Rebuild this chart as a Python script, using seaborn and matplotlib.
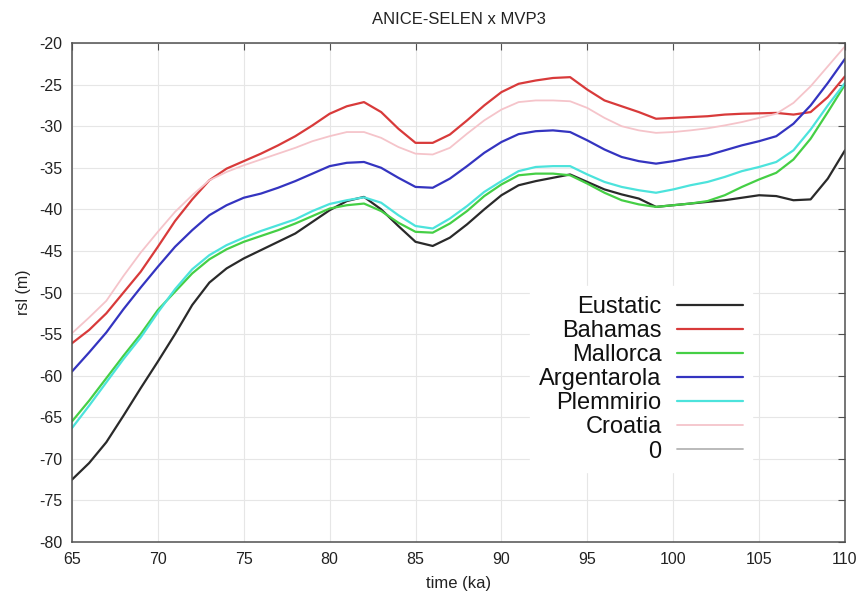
import numpy as np
import pandas as pd
import matplotlib
matplotlib.use("Agg")
import matplotlib.pyplot as plt
import seaborn as sns

# Relative sea level (m) between 65 and 110 ka, one value per ka
time_ka = list(range(65, 111))

eustatic = [-72.5, -70.5, -68.0, -64.8, -61.5, -58.3, -55.0, -51.5, -48.8, -47.1,
            -45.9, -44.9, -43.9, -42.9, -41.5, -40.1, -39.0, -38.5, -40.0, -42.0,
            -43.9, -44.4, -43.4, -41.8, -40.0, -38.3, -37.1, -36.6, -36.2, -35.8,
            -36.7, -37.6, -38.2, -38.7, -39.7, -39.5, -39.3, -39.1, -38.9, -38.6,
            -38.3, -38.4, -38.9, -38.8, -36.3, -32.9]

bahamas = [-56.1, -54.5, -52.5, -50.0, -47.5, -44.5, -41.4, -38.8, -36.5, -35.1,
           -34.2, -33.3, -32.3, -31.2, -29.9, -28.5, -27.6, -27.1, -28.3, -30.3,
           -32.0, -32.0, -31.0, -29.3, -27.5, -25.9, -24.9, -24.5, -24.2, -24.1,
           -25.6, -26.9, -27.6, -28.3, -29.1, -29.0, -28.9, -28.8, -28.6, -28.5,
           -28.45, -28.4, -28.6, -28.3, -26.5, -24.0]

mallorca = [-65.5, -63.0, -60.3, -57.6, -55.0, -52.1, -49.9, -47.7, -46.0, -44.8,
            -43.9, -43.2, -42.5, -41.7, -40.8, -39.9, -39.5, -39.3, -40.2, -41.6,
            -42.7, -42.8, -41.7, -40.2, -38.4, -37.0, -35.9, -35.7, -35.7, -35.9,
            -36.9, -38.0, -38.9, -39.4, -39.7, -39.5, -39.3, -39.0, -38.3, -37.3,
            -36.4, -35.6, -34.0, -31.5, -28.3, -25.0]

argentarola = [-59.5, -57.2, -54.8, -52.0, -49.4, -46.9, -44.5, -42.5, -40.7, -39.5,
               -38.6, -38.1, -37.4, -36.6, -35.7, -34.8, -34.4, -34.3, -35.0, -36.2,
               -37.3, -37.4, -36.3, -34.8, -33.2, -31.9, -30.95, -30.6, -30.5, -30.7,
               -31.7, -32.8, -33.7, -34.2, -34.5, -34.2, -33.8, -33.5, -32.9, -32.3,
               -31.8, -31.2, -29.7, -27.5, -24.8, -21.9]

plemmirio = [-66.3, -63.6, -60.8, -58.0, -55.4, -52.4, -49.6, -47.2, -45.5, -44.3,
             -43.4, -42.6, -41.9, -41.2, -40.2, -39.35, -38.9, -38.55, -39.2, -40.7,
             -42.0, -42.3, -41.1, -39.6, -37.9, -36.6, -35.4, -34.9, -34.8, -34.8,
             -35.8, -36.7, -37.3, -37.7, -38.0, -37.6, -37.1, -36.7, -36.1, -35.4,
             -34.9, -34.3, -32.9, -30.4, -27.5, -24.8]

croatia = [-54.9, -53.0, -51.0, -48.0, -45.2, -42.7, -40.3, -38.3, -36.5, -35.5,
           -34.7, -34.0, -33.3, -32.6, -31.8, -31.2, -30.7, -30.7, -31.4, -32.5,
           -33.3, -33.4, -32.6, -30.9, -29.3, -28.0, -27.1, -26.9, -26.9, -27.0,
           -27.8, -29.0, -30.0, -30.5, -30.8, -30.7, -30.5, -30.25, -29.9, -29.5,
           -29.0, -28.5, -27.2, -25.2, -22.8, -20.4]

zero_line = [0.0] * len(time_ka)

series_names = ["Eustatic", "Bahamas", "Mallorca", "Argentarola", "Plemmirio", "Croatia", "0"]
series_values = [eustatic, bahamas, mallorca, argentarola, plemmirio, croatia, zero_line]
series_colors = ["#2a2a2a", "#d83a3a", "#45cf45", "#3434c0", "#4ce3dc", "#f5c4ca", "#b4b4b4"]
series_widths = [1.6, 1.6, 1.6, 1.6, 1.6, 1.3, 1.3]

sns.set_style("white")
plt.rcParams["font.family"] = ["Liberation Sans", "DejaVu Sans"]
plt.rcParams["axes.unicode_minus"] = False

fig = plt.figure(figsize=(8.67, 5.98), dpi=100)
ax = fig.add_axes([0.083, 0.0936, 0.8916, 0.8344])

for name, vals, col, lw in zip(series_names, series_values, series_colors, series_widths):
    df = pd.DataFrame({"time": time_ka, "rsl": vals})
    sns.lineplot(data=df, x="time", y="rsl", color=col, linewidth=lw, label=name, ax=ax)

ax.set_xlim(65, 110)
ax.set_ylim(-80, -20)
ax.set_xticks(np.arange(65, 111, 5))
ax.set_yticks(np.arange(-80, -19, 5))
ax.grid(True, color="#e6e6e6", linewidth=0.8)
ax.set_axisbelow(True)

for sp in ax.spines.values():
    sp.set_color("#505050")
    sp.set_linewidth(1.1)

ax.tick_params(direction="in", top=True, right=True, length=5, width=0.8,
               color="#505050", labelsize=11.5, labelcolor="#222222", pad=7)

ax.set_xlabel("time (ka)", fontsize=12, color="#222222", labelpad=7)
ax.set_ylabel("rsl (m)", fontsize=11.5, color="#222222", labelpad=6)
ax.set_title("ANICE-SELEN x MVP3", fontsize=12, color="#222222", pad=14)

leg = ax.legend(loc="upper right", bbox_to_anchor=(0.8955, 0.536), markerfirst=False,
                fontsize=17, handlelength=2.8, handletextpad=0.64, labelspacing=0.09,
                borderpad=0.4, frameon=True, fancybox=False, framealpha=1.0)
leg.get_frame().set_facecolor("white")
leg.get_frame().set_edgecolor("white")
for t in leg.get_texts():
    t.set_color("#111111")

fig.savefig("out.png", dpi=100, facecolor="white")
